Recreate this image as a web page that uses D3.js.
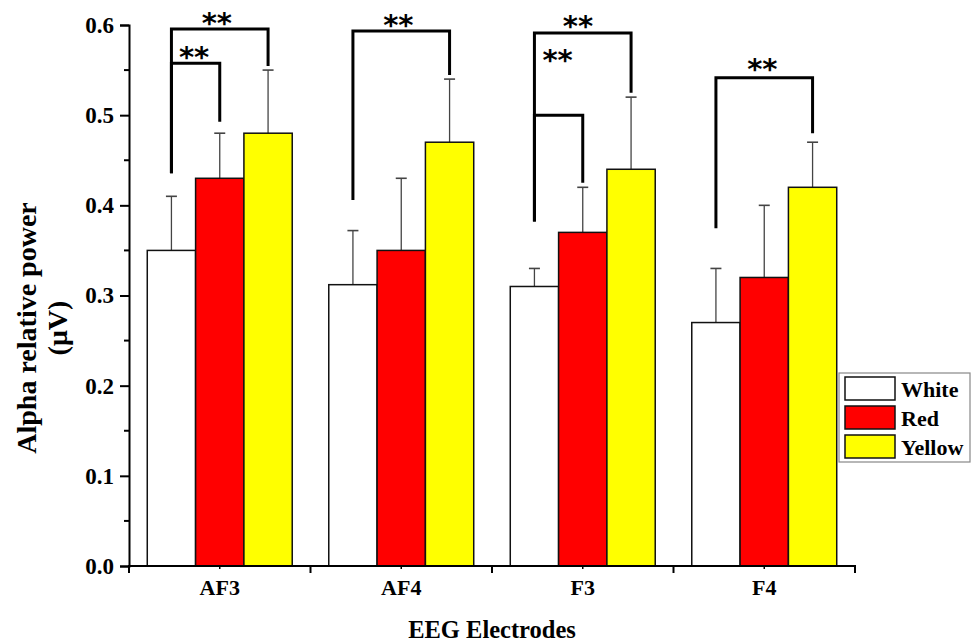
<!DOCTYPE html>
<html>
<head>
<meta charset="utf-8">
<script src="https://cdn.jsdelivr.net/npm/d3@7"></script>
<style>
  html, body { margin: 0; padding: 0; background: #fff; }
  svg { display: block; }
</style>
</head>
<body>
<svg id="chart" width="974" height="642"></svg>
<script>
// Electrode groups and stimulus colours
const electrodes = ["AF3", "AF4", "F3", "F4"];
const conditions = ["White", "Red", "Yellow"];
const fills = ["#ffffff", "#ff0000", "#ffff00"];

// Mean alpha relative power, one array per condition (order follows electrodes)
const whiteMean  = [0.35, 0.312, 0.31, 0.27];
const redMean    = [0.43, 0.35, 0.37, 0.32];
const yellowMean = [0.48, 0.47, 0.44, 0.42];

// Upper end of each error bar
const whiteErr  = [0.41, 0.372, 0.33, 0.33];
const redErr    = [0.48, 0.43, 0.42, 0.40];
const yellowErr = [0.55, 0.54, 0.52, 0.47];

const yTicks = [0.0, 0.1, 0.2, 0.3, 0.4, 0.5, 0.6];

// Significance brackets: electrode, the two conditions compared,
// level of the bar, lower ends of the left and right legs, label
const brackets = [
  { el: "AF3", a: "White", b: "Yellow", top: 0.5955, left: 0.4355, right: 0.5545, label: "**", lx: 0.47, dy: -9 },
  { el: "AF3", a: "White", b: "Red",    top: 0.5575, left: 0.4355, right: 0.4927, label: "**", lx: 0.47, dy: -9 },
  { el: "AF4", a: "White", b: "Yellow", top: 0.5933, left: 0.406,  right: 0.5445, label: "**", lx: 0.47, dy: -9 },
  { el: "F3",  a: "White", b: "Yellow", top: 0.591,  left: 0.382,  right: 0.525,  label: "**", lx: 0.45, dy: -10 },
  { el: "F3",  a: "White", b: "Red",    top: 0.4998, left: 0.382,  right: 0.425,  label: "**", lx: 0.48, dy: -58 },
  { el: "F4",  a: "White", b: "Yellow", top: 0.5415, left: 0.3745, right: 0.48,   label: "**", lx: 0.48, dy: -12 }
];

const means = [whiteMean, redMean, yellowMean];
const errs = [whiteErr, redErr, yellowErr];

const svg = d3.select("#chart");
const plot = { left: 129, right: 855, top: 25, bottom: 566 };

const x = d3.scaleBand().domain(electrodes).range([plot.left, plot.right]).padding(0);
const xInner = d3.scaleBand().domain(conditions).range([0, x.bandwidth()])
  .paddingInner(0).paddingOuter(0.378);
const y = d3.scaleLinear().domain([0, 0.6]).range([plot.bottom, plot.top]);

const serif = "'Liberation Serif', 'Times New Roman', serif";

// Bars
const rows = [];
electrodes.forEach((el, i) => {
  conditions.forEach((c, j) => {
    rows.push({ el, c, j, v: means[j][i], e: errs[j][i] });
  });
});

const g = svg.append("g");

// Error bars (upper whisker only), drawn beneath the bars
const eb = g.selectAll("g.err").data(rows).join("g").attr("class", "err");
eb.append("line")
  .attr("x1", d => x(d.el) + xInner(d.c) + xInner.bandwidth() / 2)
  .attr("x2", d => x(d.el) + xInner(d.c) + xInner.bandwidth() / 2)
  .attr("y1", d => y(d.v))
  .attr("y2", d => y(d.e))
  .attr("stroke", "#444").attr("stroke-width", 1.3);
eb.append("line")
  .attr("x1", d => x(d.el) + xInner(d.c) + xInner.bandwidth() / 2 - 5.5)
  .attr("x2", d => x(d.el) + xInner(d.c) + xInner.bandwidth() / 2 + 5.5)
  .attr("y1", d => y(d.e))
  .attr("y2", d => y(d.e))
  .attr("stroke", "#444").attr("stroke-width", 1.6);

g.selectAll("rect.bar").data(rows).join("rect")
  .attr("class", "bar")
  .attr("x", d => x(d.el) + xInner(d.c))
  .attr("y", d => y(d.v))
  .attr("width", xInner.bandwidth())
  .attr("height", d => y(0) - y(d.v))
  .attr("fill", d => fills[d.j])
  .attr("stroke", "#111")
  .attr("stroke-width", 1.5);

// Y axis
const yAxis = d3.axisLeft(y).tickValues(yTicks).tickFormat(d3.format(".1f")).tickSize(9).tickPadding(6);
const ya = svg.append("g").attr("transform", `translate(${plot.left},0)`).call(yAxis);
ya.select(".domain").attr("stroke", "#000").attr("stroke-width", 2);
ya.selectAll(".tick line").attr("stroke", "#000").attr("stroke-width", 2);
ya.selectAll(".tick text")
  .attr("font-family", serif).attr("font-weight", "bold").attr("font-size", 23).attr("fill", "#000");
// Minor ticks on the y axis
const yMinor = d3.range(0.05, 0.6, 0.1);
svg.append("g").selectAll("line").data(yMinor).join("line")
  .attr("x1", plot.left - 5).attr("x2", plot.left)
  .attr("y1", d => y(d)).attr("y2", d => y(d))
  .attr("stroke", "#000").attr("stroke-width", 2);

// X axis: line, ticks at group boundaries, labels at group centres
const xa = svg.append("g");
xa.append("line")
  .attr("x1", plot.left - 1).attr("x2", plot.right + 1)
  .attr("y1", plot.bottom).attr("y2", plot.bottom)
  .attr("stroke", "#000").attr("stroke-width", 2);
const bounds = electrodes.map(e => x(e)).concat([plot.right]);
xa.selectAll("line.maj").data(bounds).join("line").attr("class", "maj")
  .attr("x1", d => d).attr("x2", d => d)
  .attr("y1", plot.bottom).attr("y2", plot.bottom + 7)
  .attr("stroke", "#000").attr("stroke-width", 2);
xa.selectAll("line.min").data(electrodes).join("line").attr("class", "min")
  .attr("x1", d => x(d) + x.bandwidth() / 2).attr("x2", d => x(d) + x.bandwidth() / 2)
  .attr("y1", plot.bottom).attr("y2", plot.bottom + 3)
  .attr("stroke", "#000").attr("stroke-width", 1.5);
xa.selectAll("text").data(electrodes).join("text")
  .attr("x", d => x(d) + x.bandwidth() / 2)
  .attr("y", 595)
  .attr("text-anchor", "middle")
  .attr("font-family", serif).attr("font-weight", "bold").attr("font-size", 22)
  .text(d => d);

// Axis titles
svg.append("text")
  .attr("x", (plot.left + plot.right) / 2).attr("y", 638)
  .attr("text-anchor", "middle")
  .attr("font-family", serif).attr("font-weight", "bold").attr("font-size", 24.5)
  .text("EEG Electrodes");

const yt = svg.append("text")
  .attr("transform", "translate(0,328) rotate(-90)")
  .attr("text-anchor", "middle")
  .attr("font-family", serif).attr("font-weight", "bold").attr("font-size", 28);
yt.append("tspan").attr("x", 0).attr("y", 36).text("Alpha relative power");
yt.append("tspan").attr("x", 0).attr("y", 67).text("(μV)");

// Significance brackets
const cx = (el, c) => x(el) + xInner(c) + xInner.bandwidth() / 2;
const br = svg.append("g");
brackets.forEach(b => {
  const x1 = cx(b.el, b.a), x2 = cx(b.el, b.b);
  br.append("path")
    .attr("d", `M${x1},${y(b.left)}V${y(b.top)}H${x2}V${y(b.right)}`)
    .attr("fill", "none").attr("stroke", "#000").attr("stroke-width", 3)
    .attr("stroke-linejoin", "miter");
  br.append("text")
    .attr("x", x1 + (x2 - x1) * b.lx)
    .attr("y", y(b.top) + b.dy)
    .attr("text-anchor", "middle")
    .attr("font-family", "'DejaVu Sans', sans-serif")
    .attr("font-weight", "bold")
    .attr("font-size", 29)
    .attr("dy", "0.45em")
    .text(b.label);
});

// Legend
const lg = svg.append("g").attr("transform", "translate(839,373)");
lg.append("rect").attr("x", 0).attr("y", 0).attr("width", 131).attr("height", 89)
  .attr("fill", "#fff").attr("stroke", "#888").attr("stroke-width", 1.2);
const items = lg.selectAll("g.item").data(conditions).join("g").attr("class", "item")
  .attr("transform", (d, i) => `translate(6,${4 + i * 29})`);
items.append("rect").attr("width", 50).attr("height", 23)
  .attr("fill", (d, i) => fills[i]).attr("stroke", "#111").attr("stroke-width", 1.5);
items.append("text").attr("x", 56).attr("y", 20)
  .attr("font-family", serif).attr("font-weight", "bold").attr("font-size", 22)
  .text(d => d);
</script>
</body>
</html>
